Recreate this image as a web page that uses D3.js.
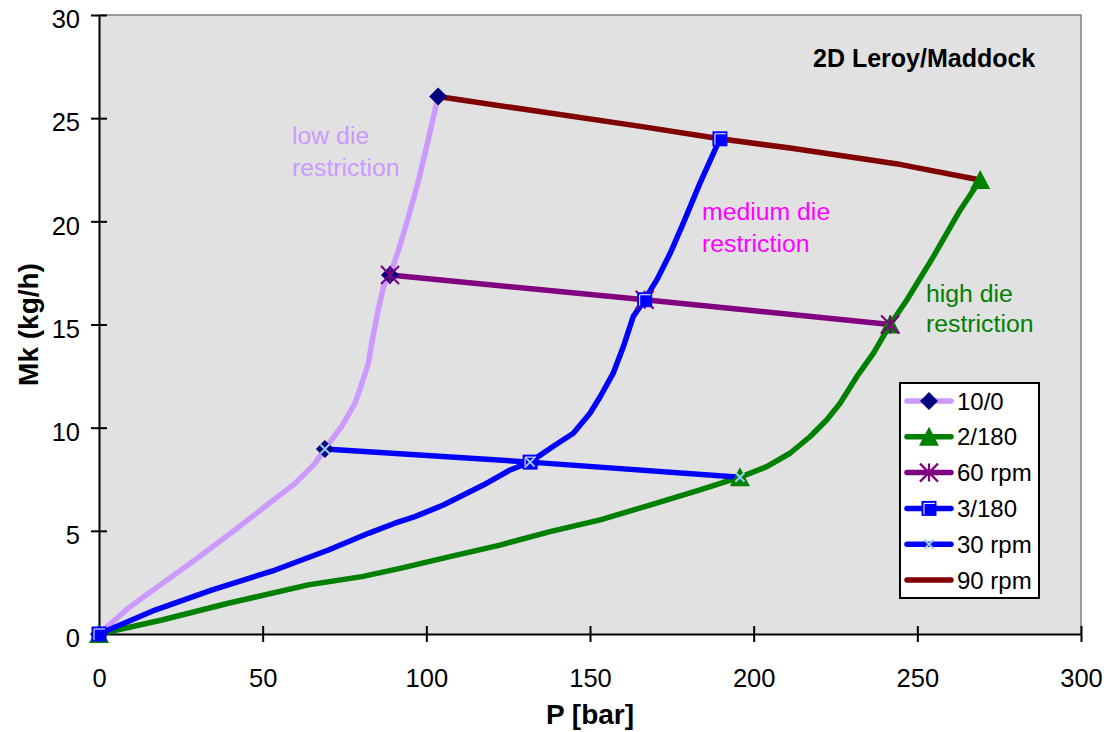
<!DOCTYPE html>
<html><head><meta charset="utf-8">
<script src="https://cdn.jsdelivr.net/npm/d3@7"></script>
<style>
html,body{margin:0;padding:0;background:#fff;}
text{font-family:"Liberation Sans",Arial,sans-serif;}
</style></head>
<body><svg id="chart" width="1112" height="732"></svg>
<script>
// ---- data ----
const xTicks = [0, 50, 100, 150, 200, 250, 300];
const yTicks = [0, 5, 10, 15, 20, 25, 30];

const s10_0 = [[0,0],[8.9,1.25],[15.1,1.97],[29.3,3.59],[41.5,5.04],[50.7,6.17],[59.9,7.3],[66,8.27],[69,8.97],[74.1,10.05],[78.2,11.18],[80.3,12.15],[82.3,13.12],[83.3,14.09],[85.3,15.7],[86.9,16.83],[88.9,17.4],[91.5,18.6],[94.5,20.2],[97.5,21.9],[100.5,23.9],[103.6,26.05]];
const m10_0 = [[0,0],[69,8.97],[88.9,17.4],[103.6,26.05]];

const s2_180 = [[0,0],[19.2,0.68],[39.5,1.49],[63.9,2.38],[80.3,2.78],[92,3.18],[107.2,3.75],[122.5,4.31],[137.8,4.96],[153.1,5.53],[168.3,6.25],[183.6,6.98],[195.8,7.6],[204,8.11],[211.1,8.76],[217.2,9.56],[222.3,10.37],[226.4,11.18],[231.5,12.47],[236.6,13.61],[241.7,15.0],[246.8,16.19],[254.9,18.29],[263.1,20.55],[269.2,22.0]];
const m2_180 = [[0,0],[195.8,7.6],[241.7,15.0],[269.2,22.0]];

const s60rpm = [[88.9,17.4],[166.7,16.2],[241.7,15.0]];

const s3_180 = [[0,0],[17.1,1.16],[34.4,2.13],[53.8,3.1],[70.1,4.07],[82.3,4.88],[90.4,5.37],[96.5,5.69],[105.2,6.25],[117.4,7.22],[125.6,7.95],[131.7,8.33],[138.8,9.1],[144.9,9.73],[150,10.7],[153.1,11.5],[157.1,12.64],[160.2,13.93],[163.2,15.38],[166.7,16.2],[170.4,17.16],[174.5,18.45],[178.5,19.91],[183.6,21.85],[189.7,24.0]];
const m3_180 = [[0,0],[131.7,8.33],[166.7,16.2],[189.7,24.0]];

const s30rpm = [[69,8.97],[131.7,8.33],[195.8,7.6]];

const s90rpm = [[103.6,26.05],[132,25.38],[165.9,24.59],[189.7,24.0],[211.1,23.55],[245,22.75],[269.2,22.0]];

const legendNames = ["10/0", "2/180", "60 rpm", "3/180", "30 rpm", "90 rpm"];
const annotations = [["low die", "restriction"], ["medium die", "restriction"], ["high die", "restriction"]];
const chartTitle = "2D Leroy/Maddock";
const xTitle = "P [bar]";
const yTitle = "Mk (kg/h)";

// ---- layout ----
const svg = d3.select("#chart");
const L = 99, R = 1081, T = 15, B = 634;
const x = d3.scaleLinear().domain([0, 300]).range([L, R]);
const y = d3.scaleLinear().domain([0, 30]).range([B, T]);

svg.append("rect").attr("x", L).attr("y", T).attr("width", R - L).attr("height", B - T)
  .attr("fill", "#e1e1e1");
svg.append("path").attr("d", `M${L},${T}H${R}V${B}`).attr("fill", "none")
  .attr("stroke", "#808080").attr("stroke-width", 1.5);

// axes
const xAxis = d3.axisBottom(x).tickValues(xTicks).tickSizeInner(8).tickSizeOuter(0).tickPadding(27);
const gx = svg.append("g").attr("transform", `translate(0,${B})`).call(xAxis);
const yAxis = d3.axisLeft(y).tickValues(yTicks).tickSizeInner(8).tickSizeOuter(0).tickPadding(11);
const gy = svg.append("g").attr("transform", `translate(${L},0)`).call(yAxis);
[gx, gy].forEach(g => {
  g.select(".domain").attr("stroke", "#000").attr("stroke-width", 2);
  g.selectAll(".tick line").attr("stroke", "#000").attr("stroke-width", 2);
  g.selectAll(".tick text").attr("fill", "#000").style("font-size", "25.5px")
    .style("font-family", "'Liberation Sans', Arial, sans-serif");
});
gx.selectAll(".tick line").attr("y1", -8).attr("y2", 8);
gy.selectAll(".tick line").attr("x1", -8).attr("x2", 8);
gy.selectAll(".tick text").attr("dy", "0.5em");

// axis titles
svg.append("text").attr("x", (L + R) / 2).attr("y", 724).attr("text-anchor", "middle")
  .style("font-size", "28px").style("font-weight", "bold").text(xTitle);
svg.append("text").attr("transform", `translate(38,${(T + B) / 2}) rotate(-90)`)
  .attr("text-anchor", "middle").style("font-size", "28px").style("font-weight", "bold").text(yTitle);

// lines
const line = d3.line().x(d => x(d[0])).y(d => y(d[1]));
const lineSeries = [
  [s10_0, "#cc99ff"], [s2_180, "#008000"], [s60rpm, "#800080"],
  [s3_180, "#0000ff"], [s30rpm, "#0000ff"], [s90rpm, "#800000"]
];
const gl = svg.append("g");
lineSeries.forEach(([data, col]) => {
  gl.append("path").datum(data).attr("d", line).attr("fill", "none")
    .attr("stroke", col).attr("stroke-width", 5.5).attr("stroke-linejoin", "round").attr("stroke-linecap", "round");
});

// marker drawers
function diamond(g, cx, cy) {
  g.append("path").attr("d", `M${cx},${cy-9}L${cx+9},${cy}L${cx},${cy+9}L${cx-9},${cy}Z`).attr("fill", "#000080");
}
function triangle(g, cx, cy) {
  g.append("path").attr("d", `M${cx},${cy-10}L${cx+10},${cy+9}L${cx-10},${cy+9}Z`).attr("fill", "#008000");
}
function asterisk(g, cx, cy) {
  const s = 9;
  g.append("path").attr("d", `M${cx},${cy-s}V${cy+s}M${cx-s},${cy-s}L${cx+s},${cy+s}M${cx+s},${cy-s}L${cx-s},${cy+s}`)
    .attr("stroke", "#800080").attr("stroke-width", 2.2).attr("fill", "none");
}
function square(g, cx, cy) {
  g.append("rect").attr("x", cx - 7.5).attr("y", cy - 7.5).attr("width", 15).attr("height", 15).attr("fill", "#0000ff");
  g.append("path").attr("d", `M${cx-5},${cy+6}V${cy-5}H${cx+6}`).attr("stroke", "#fff").attr("stroke-width", 1).attr("fill", "none");
}
function smallX(g, cx, cy) {
  const s = 4.5;
  g.append("path").attr("d", `M${cx-s},${cy-s}L${cx+s},${cy+s}M${cx+s},${cy-s}L${cx-s},${cy+s}`)
    .attr("stroke", "#99ccff").attr("stroke-width", 2).attr("fill", "none");
}

const gm = svg.append("g");
m10_0.forEach(d => diamond(gm, x(d[0]), y(d[1])));
m2_180.forEach(d => triangle(gm, x(d[0]), y(d[1])));
s60rpm.forEach(d => asterisk(gm, x(d[0]), y(d[1])));
m3_180.forEach(d => square(gm, x(d[0]), y(d[1])));
s30rpm.forEach(d => smallX(gm, x(d[0]), y(d[1])));

// annotations
const annPos = [[292, 144, 32, "#cc99ff"], [702, 220, 32, "#ff00ff"], [926, 302, 30, "#008000"]];
annotations.forEach((lines, i) => {
  const [ax, ay, lh, col] = annPos[i];
  const t = svg.append("text").attr("x", ax).attr("y", ay).attr("fill", col).style("font-size", "24.8px");
  lines.forEach((s, j) => t.append("tspan").attr("x", ax).attr("y", ay + j * lh).text(s));
});
svg.append("text").attr("x", 813).attr("y", 67).style("font-size", "25px").style("font-weight", "bold")
  .attr("fill", "#000").text(chartTitle);

// legend
const lg = svg.append("g");
lg.append("rect").attr("x", 900).attr("y", 383).attr("width", 139).attr("height", 215)
  .attr("fill", "#fff").attr("stroke", "#000").attr("stroke-width", 2);
const legCols = ["#cc99ff", "#008000", "#800080", "#0000ff", "#0000ff", "#800000"];
const legMarkers = [diamond, triangle, asterisk, square, smallX, null];
legendNames.forEach((name, i) => {
  const ly = 401 + i * 35.8;
  lg.append("line").attr("x1", 907).attr("x2", 951).attr("y1", ly).attr("y2", ly)
    .attr("stroke", legCols[i]).attr("stroke-width", 5.5).attr("stroke-linecap", "round");
  if (legMarkers[i]) legMarkers[i](lg, 929, ly);
  lg.append("text").attr("x", 957).attr("y", ly + 8.5).style("font-size", "24px").attr("fill", "#000").text(name);
});
</script></body></html>
